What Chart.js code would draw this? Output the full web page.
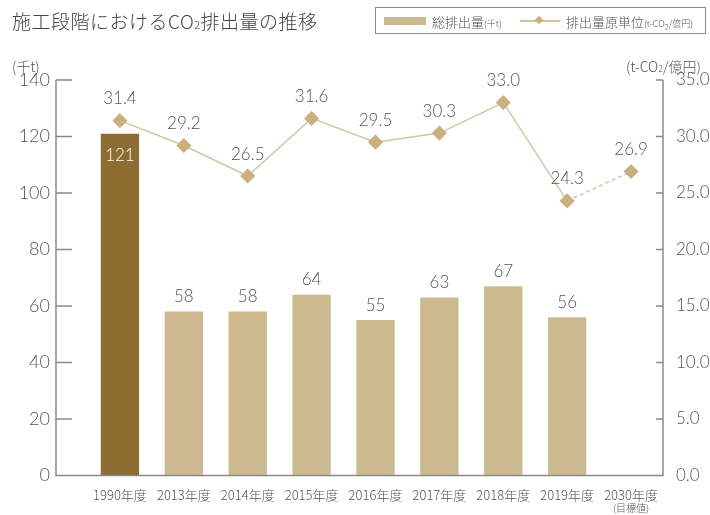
<!DOCTYPE html>
<html>
<head>
<meta charset="utf-8">
<title>施工段階におけるCO2排出量の推移</title>
<script src="https://cdn.jsdelivr.net/npm/chart.js"></script>
<style>
  body { margin: 0; background: #fff; }
  #wrap { position: relative; width: 710px; height: 515px; font-family: "Noto Sans CJK JP", sans-serif; color: #4a4a4a; }
  #title { position: absolute; left: 12px; top: 7px; font-size: 19px; font-weight: 300; letter-spacing: 0.5px; color: #444; }
  #title small { font-size: 11px; }
  #legend { position: absolute; left: 375px; top: 7px; width: 331px; height: 27px; border: 1px solid #8a8a8a; box-sizing: border-box; font-size: 13px; font-weight: 300; color: #555; }
  #legend .sw { position: absolute; left: 8px; top: 9px; width: 42px; height: 8px; background: #cdb98f; }
  #legend .t1 { position: absolute; left: 56px; top: 4px; white-space: nowrap; }
  #legend .ln { position: absolute; left: 144px; top: 12px; width: 40px; height: 1.5px; background: #cfc19b; }
  #legend .dm { position: absolute; left: 160px; top: 9px; width: 6px; height: 6px; background: #c9b07f; transform: rotate(45deg); }
  #legend .t2 { position: absolute; left: 190px; top: 4px; white-space: nowrap; }
  #legend small { font-size: 9px; }
  .unit { position: absolute; top: 56px; font-size: 14px; font-weight: 300; color: #555; }
  canvas { position: absolute; left: 0; top: 0; }
</style>
</head>
<body>
<div id="wrap">
  <canvas id="co2Chart" width="710" height="515"></canvas>
  <div id="title">施工段階におけるCO<small>2</small>排出量の推移</div>
  <div id="legend">
    <div class="sw"></div><div class="t1">総排出量<small>(千t)</small></div>
    <div class="ln"></div><div class="dm"></div><div class="t2">排出量原単位<small>(t-CO<sub>2</sub>/億円)</small></div>
  </div>
  <div class="unit" style="left:12px;">(千t)</div>
  <div class="unit" style="left:626px;">(t-CO<small style="font-size:9px">2</small>/億円)</div>
</div>

<script>
const years = ['1990年度', '2013年度', '2014年度', '2015年度', '2016年度', '2017年度', '2018年度', '2019年度', '2030年度'];
const totalEmission = [121, 58, 58, 64, 55, 63, 67, 56, null];
const intensity = [31.4, 29.2, 26.5, 31.6, 29.5, 30.3, 33.0, 24.3, 26.9];
const leftTicks = [0, 20, 40, 60, 80, 100, 120, 140];
const rightTicks = [0, 5, 10, 15, 20, 25, 30, 35];

const barColors = totalEmission.map((v, i) => i === 0 ? '#8d6d32' : '#cdb98f');
const numFont = 'Lato, "Noto Sans CJK JP", sans-serif';

// axis lines, inward tick marks and value labels
const decor = {
    id: 'decor',
    afterDatasetsDraw(chart) {
        const ctx = chart.ctx;
        const yL = chart.scales.y, yR = chart.scales.y1;
        const top = yL.getPixelForValue(140), bottom = yL.getPixelForValue(0);
        const leftX = 56, rightX = chart.chartArea.right;
        ctx.save();
        ctx.strokeStyle = '#8a8a8a';
        ctx.lineWidth = 1.5;
        ctx.beginPath();
        ctx.moveTo(leftX, top); ctx.lineTo(leftX, bottom);
        ctx.lineTo(rightX, bottom); ctx.lineTo(rightX, top);
        leftTicks.forEach(t => {
            const y = yL.getPixelForValue(t);
            if (t > 0) { ctx.moveTo(leftX, y); ctx.lineTo(leftX + 16, y); }
        });
        rightTicks.forEach(t => {
            const y = yR.getPixelForValue(t);
            if (t > 0) { ctx.moveTo(rightX - 7, y); ctx.lineTo(rightX, y); }
        });
        ctx.stroke();

        ctx.textAlign = 'center';
        ctx.textBaseline = 'middle';
        ctx.font = '300 17px ' + numFont;
        // bar values
        chart.getDatasetMeta(1).data.forEach((bar, i) => {
            const v = totalEmission[i];
            if (v == null) return;
            if (i === 0) {
                ctx.fillStyle = '#ffffff';
                ctx.fillText(v, bar.x, bar.y + 22);
            } else {
                ctx.fillStyle = '#555555';
                ctx.fillText(v, bar.x, bar.y - 15);
            }
        });
        // line values
        ctx.fillStyle = '#555555';
        chart.getDatasetMeta(0).data.forEach((pt, i) => {
            ctx.fillText(intensity[i].toFixed(1), pt.x, pt.y - 22);
        });
        // note under the target year
        const xs = chart.scales.x;
        ctx.font = '300 10px "Noto Sans CJK JP", sans-serif';
        ctx.fillText('(目標値)', xs.getPixelForValue(8), 508);
        ctx.restore();
    }
};

// the big tick padding must not eat into the plot height
function fitY(width) {
    return s => { s.width = width; s.paddingTop = 12; s.paddingBottom = 12; };
}

const chart = new Chart(document.getElementById('co2Chart').getContext('2d'), {
    data: {
        labels: years,
        datasets: [{
            type: 'line',
            label: '排出量原単位',
            data: intensity,
            yAxisID: 'y1',
            order: 0,
            borderColor: '#d3c6a1',
            borderWidth: 1.5,
            pointStyle: 'rectRot',
            pointRadius: 6.5,
            pointBackgroundColor: '#c9b07f',
            pointBorderColor: '#c9b07f',
            segment: {
                borderDash: c => c.p1DataIndex === 8 ? [4, 3] : undefined
            }
        }, {
            type: 'bar',
            label: '総排出量',
            data: totalEmission,
            yAxisID: 'y',
            order: 1,
            backgroundColor: barColors,
            barPercentage: 0.6,
            categoryPercentage: 1
        }]
    },
    options: {
        responsive: false,
        animation: false,
        layout: { padding: { top: 80, left: 0, right: 0, bottom: 8 } },
        plugins: {
            legend: { display: false },
            title: { display: false },
            tooltip: { enabled: false }
        },
        scales: {
            x: {
                offset: true,
                grid: { display: false },
                border: { display: false },
                ticks: { color: '#555', font: { size: 13, weight: 300, family: '"Noto Sans CJK JP", sans-serif' }, padding: 4, maxRotation: 0 }
            },
            y: {
                position: 'left',
                min: 0, max: 140,
                afterBuildTicks: s => { s.ticks = leftTicks.map(v => ({ value: v })); },
                grid: { display: false },
                border: { display: false },
                ticks: { color: '#555', font: { size: 18, weight: 300, family: numFont }, padding: 30 },
                afterFit: fitY(88)
            },
            y1: {
                position: 'right',
                min: 0, max: 35,
                afterBuildTicks: s => { s.ticks = rightTicks.map(v => ({ value: v })); },
                grid: { display: false },
                border: { display: false },
                ticks: { color: '#555', font: { size: 17, weight: 300, family: numFont }, padding: 5, callback: v => v.toFixed(1) },
                afterFit: fitY(47)
            }
        }
    },
    plugins: [decor]
});
</script>
</body>
</html>
